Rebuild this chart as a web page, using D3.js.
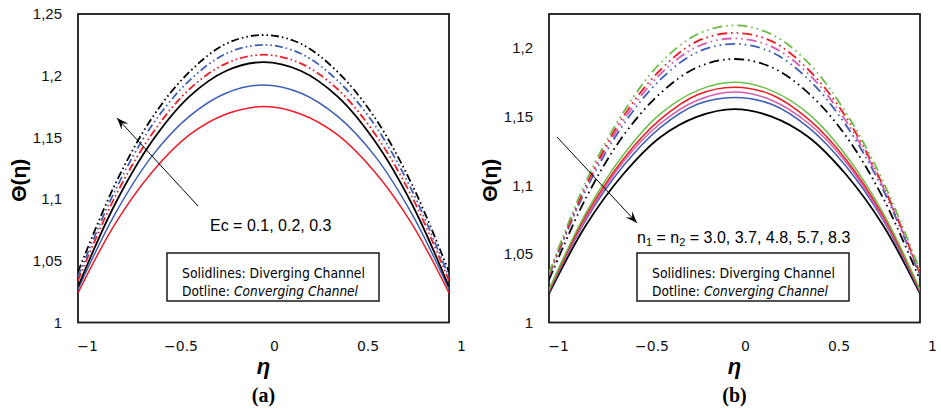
<!DOCTYPE html>
<html><head><meta charset="utf-8">
<script src="https://cdn.jsdelivr.net/npm/d3@7"></script>
<style>body{margin:0;background:#fff}</style>
</head><body>
<svg id="c" width="941" height="409"></svg>
<script>
// ---------- data ----------
const eta = [-1, -0.8, -0.6, -0.4, -0.2, 0, 0.2, 0.4, 0.6, 0.8, 1];
const xTicks = [-1, -0.5, 0, 0.5, 1];
const yTicksA = [1, 1.05, 1.1, 1.15, 1.2, 1.25];
const yTicksB = [1, 1.05, 1.1, 1.15, 1.2];

// Panel (a): Ec = 0.1, 0.2, 0.3
const aDivEc01 = [1.024, 1.080, 1.122, 1.152, 1.169, 1.175, 1.169, 1.152, 1.122, 1.080, 1.024];
const aDivEc02 = [1.027, 1.088, 1.135, 1.167, 1.186, 1.1925, 1.186, 1.167, 1.135, 1.088, 1.027];
const aDivEc03 = [1.029, 1.096, 1.147, 1.183, 1.204, 1.211, 1.204, 1.183, 1.147, 1.096, 1.029];
const aConEc01 = [1.034, 1.102, 1.153, 1.189, 1.210, 1.217, 1.210, 1.189, 1.153, 1.102, 1.034];
const aConEc02 = [1.037, 1.107, 1.160, 1.196, 1.218, 1.225, 1.218, 1.196, 1.160, 1.107, 1.037];
const aConEc03 = [1.041, 1.112, 1.166, 1.203, 1.226, 1.233, 1.226, 1.203, 1.166, 1.112, 1.041];

// Panel (b): n1 = n2 = 3.0, 3.7, 4.8, 5.7, 8.3
const bDivN30 = [1.024, 1.080, 1.122, 1.152, 1.169, 1.175, 1.169, 1.152, 1.122, 1.080, 1.024];
const bDivN37 = [1.023, 1.078, 1.119, 1.148, 1.166, 1.1715, 1.166, 1.148, 1.119, 1.078, 1.023];
const bDivN48 = [1.023, 1.076, 1.117, 1.145, 1.162, 1.168, 1.162, 1.145, 1.117, 1.076, 1.023];
const bDivN57 = [1.022, 1.075, 1.114, 1.142, 1.159, 1.164, 1.159, 1.142, 1.114, 1.075, 1.022];
const bDivN83 = [1.021, 1.071, 1.108, 1.135, 1.150, 1.1555, 1.150, 1.135, 1.108, 1.071, 1.021];
const bConN30 = [1.036, 1.103, 1.153, 1.189, 1.210, 1.2165, 1.210, 1.189, 1.153, 1.103, 1.038];
const bConN37 = [1.035, 1.100, 1.150, 1.184, 1.205, 1.211, 1.205, 1.184, 1.150, 1.100, 1.036];
const bConN48 = [1.035, 1.099, 1.147, 1.181, 1.201, 1.207, 1.201, 1.181, 1.147, 1.099, 1.035];
const bConN57 = [1.034, 1.097, 1.144, 1.177, 1.197, 1.203, 1.197, 1.177, 1.144, 1.097, 1.034];
const bConN83 = [1.031, 1.091, 1.136, 1.167, 1.186, 1.192, 1.186, 1.167, 1.136, 1.091, 1.031];

const RED = "#ee1c25", BLUE = "#3f5fb5", BLACK = "#000", PINK = "#d65cb0", GREEN = "#6cbd45";

const svg = d3.select("#c");

function panel(o) {
  const g = svg.append("g");
  const x = d3.scaleLinear().domain([-1, 1]).range([o.left, o.right]);
  const xLab = d3.scaleLinear().domain([-1, 1]).range([o.left + 9, o.right + 12]);
  const y = d3.scaleLinear().domain(o.yDomain).range([o.bottom, o.top]);

  // frame
  g.append("rect").attr("x", o.left).attr("y", o.top)
    .attr("width", o.right - o.left).attr("height", o.bottom - o.top)
    .attr("fill", "none").attr("stroke", "#1a1a1a").attr("stroke-width", 1.8);

  // y tick labels
  const yAx = d3.axisLeft(y).tickValues(o.yTicks).tickSize(0).tickPadding(0)
    .tickFormat(d => d3.format("~g")(d).replace(".", ","));
  const ya = g.append("g").attr("transform", `translate(${o.left - 16},0)`).call(yAx);
  ya.select(".domain").remove();
  ya.selectAll("text").attr("font-family", "Liberation Sans, Arial, sans-serif")
    .attr("font-size", 15).attr("fill", "#111");

  // x tick labels
  const xAx = d3.axisBottom(xLab).tickValues(xTicks).tickSize(0).tickPadding(0)
    .tickFormat(d => d3.format("~g")(d).replace("-", "\u2212"));
  const xa = g.append("g").attr("transform", `translate(0,${o.bottom + 19})`).call(xAx);
  xa.select(".domain").remove();
  xa.selectAll("text").attr("font-family", "DejaVu Sans, sans-serif")
    .attr("font-size", 14).attr("fill", "#111");

  // curves
  const line = d3.line().x((d, i) => x(eta[i])).y(d => y(d)).curve(d3.curveCatmullRom.alpha(0.5));
  const clip = "clip" + o.id;
  g.append("clipPath").attr("id", clip).append("rect")
    .attr("x", o.left).attr("y", o.top).attr("width", o.right - o.left).attr("height", o.bottom - o.top);
  const cg = g.append("g").attr("clip-path", `url(#${clip})`);
  o.series.forEach(s => {
    cg.append("path").datum(s.v).attr("d", line).attr("fill", "none")
      .attr("stroke", s.c).attr("stroke-width", s.w)
      .attr("stroke-dasharray", s.dash || null);
  });

  // axis titles
  const cx = (o.left + o.right) / 2;
  g.append("text").attr("transform", `translate(${o.left - 52},${(o.top + o.bottom) / 2 + 12}) rotate(-90)`)
    .attr("text-anchor", "middle").attr("font-family", "Liberation Sans, Arial, sans-serif")
    .attr("font-weight", "bold").attr("font-size", 21).text("\u0398(\u03b7)");
  g.append("text").attr("x", cx).attr("y", 374).attr("text-anchor", "middle")
    .attr("font-family", "Liberation Sans, Arial, sans-serif").attr("font-weight", "bold")
    .attr("font-style", "italic").attr("font-size", 22).text("\u03b7");
  g.append("text").attr("x", cx).attr("y", 402).attr("text-anchor", "middle")
    .attr("font-family", "Liberation Serif, Times New Roman, serif").attr("font-weight", "bold")
    .attr("font-size", 20).text(o.tag);

  // legend box
  g.append("rect").attr("x", o.boxX).attr("y", 253).attr("width", 212).attr("height", 48)
    .attr("fill", "#fff").attr("stroke", "#1a1a1a").attr("stroke-width", 1.5);
  g.append("text").attr("x", o.boxX + 15).attr("y", 278).attr("font-family", "DejaVu Sans, sans-serif")
    .attr("font-size", 13.5).attr("textLength", 183).attr("lengthAdjust", "spacingAndGlyphs")
    .text("Solidlines: Diverging Channel");
  g.append("text").attr("x", o.boxX + 15).attr("y", 296).attr("font-family", "DejaVu Sans, sans-serif")
    .attr("font-size", 13.5).attr("textLength", 48).attr("lengthAdjust", "spacingAndGlyphs")
    .text("Dotline:");
  g.append("text").attr("x", o.boxX + 67).attr("y", 296).attr("font-family", "DejaVu Sans, sans-serif")
    .attr("font-size", 13.5).attr("font-style", "italic").attr("textLength", 124).attr("lengthAdjust", "spacingAndGlyphs")
    .text("Converging Channel");

  // arrow
  const [x1, y1, x2, y2] = o.arrow;
  g.append("line").attr("x1", x1).attr("y1", y1).attr("x2", x2).attr("y2", y2)
    .attr("stroke", "#000").attr("stroke-width", 1);
  const ang = Math.atan2(y2 - y1, x2 - x1);
  const L = 12, W = 4.5;
  const bx = x2 - L * Math.cos(ang), by = y2 - L * Math.sin(ang);
  g.append("path").attr("d",
    `M${x2},${y2}L${bx + W * Math.sin(ang)},${by - W * Math.cos(ang)}L${bx + 0.4 * L * Math.cos(ang)},${by + 0.4 * L * Math.sin(ang)}L${bx - W * Math.sin(ang)},${by + W * Math.cos(ang)}Z`)
    .attr("fill", "#000");
  return g;
}

const DD_A = "8,3,1.6,3,1.6,3";
const DD_B = "10,4,1.6,4,1.6,4";

const gA = panel({
  id: "a", tag: "(a)", left: 78, right: 449, top: 14, bottom: 322.5, yDomain: [1, 1.25], yTicks: yTicksA,
  boxX: 167, arrow: [198, 206, 117, 118],
  series: [
    { v: aDivEc01, c: RED, w: 1.5 }, { v: aDivEc02, c: BLUE, w: 1.5 }, { v: aDivEc03, c: BLACK, w: 1.8 },
    { v: aConEc01, c: RED, w: 1.8, dash: DD_A }, { v: aConEc02, c: BLUE, w: 1.8, dash: DD_A }, { v: aConEc03, c: BLACK, w: 1.8, dash: DD_A }
  ]
});
gA.append("text").attr("x", 210).attr("y", 231).attr("font-family", "Liberation Sans, Arial, sans-serif")
  .attr("font-size", 16).text("Ec = 0.1, 0.2, 0.3");

const gB = panel({
  id: "b", tag: "(b)", left: 549, right: 920, top: 14, bottom: 322.5, yDomain: [1, 1.2248], yTicks: yTicksB,
  boxX: 637, arrow: [557, 137, 637, 223],
  series: [
    { v: bDivN83, c: BLACK, w: 1.8 }, { v: bDivN57, c: BLUE, w: 1.5 }, { v: bDivN48, c: PINK, w: 1.5 },
    { v: bDivN37, c: RED, w: 1.5 }, { v: bDivN30, c: GREEN, w: 1.5 },
    { v: bConN83, c: BLACK, w: 1.8, dash: DD_B }, { v: bConN57, c: BLUE, w: 1.8, dash: DD_B },
    { v: bConN48, c: PINK, w: 1.8, dash: DD_B }, { v: bConN37, c: RED, w: 1.8, dash: DD_B },
    { v: bConN30, c: GREEN, w: 1.8, dash: DD_B }
  ]
});
const nt = gB.append("text").attr("x", 637).attr("y", 243).attr("font-family", "Liberation Sans, Arial, sans-serif")
  .attr("font-size", 16);
nt.append("tspan").text("n");
nt.append("tspan").attr("font-size", 11).attr("dy", 3).text("1");
nt.append("tspan").attr("dy", -3).text(" = n");
nt.append("tspan").attr("font-size", 11).attr("dy", 3).text("2");
nt.append("tspan").attr("dy", -3).text(" = 3.0, 3.7, 4.8, 5.7, 8.3");
</script>
</body></html>
